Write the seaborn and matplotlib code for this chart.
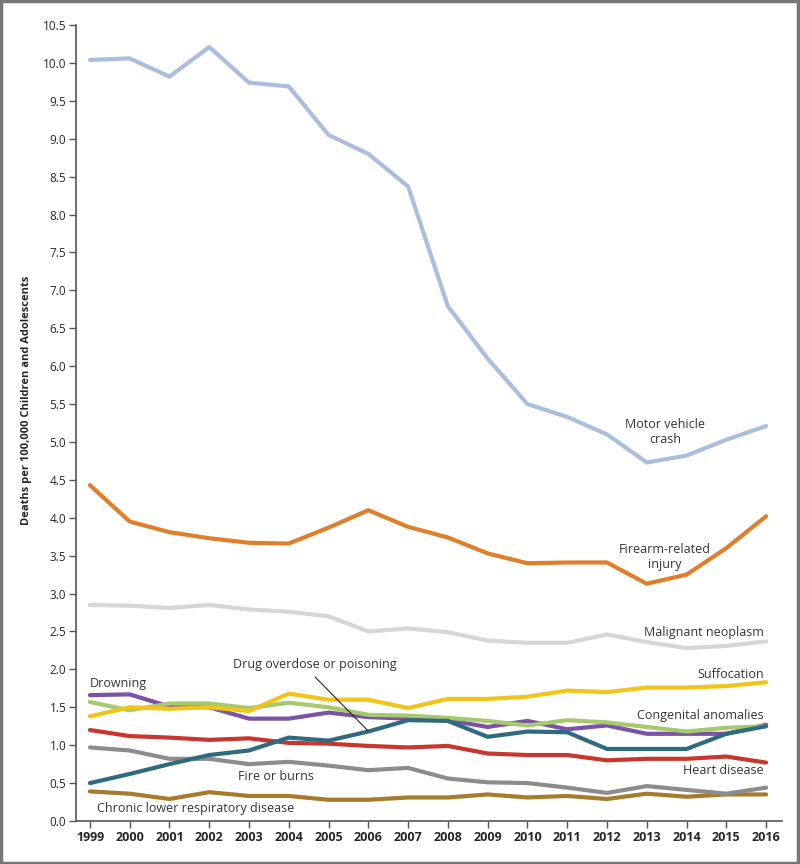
import matplotlib
matplotlib.use("Agg")
import matplotlib.pyplot as plt
from matplotlib.patches import Rectangle
import numpy as np
import pandas as pd
import seaborn as sns

years = list(range(1999, 2017))

motor_vehicle = [10.04, 10.06, 9.82, 10.21, 9.74, 9.69, 9.05, 8.80, 8.37, 6.79,
                 6.10, 5.50, 5.33, 5.10, 4.73, 4.82, 5.03, 5.21]
firearm = [4.43, 3.95, 3.81, 3.73, 3.67, 3.66, 3.87, 4.10, 3.88, 3.74,
           3.53, 3.40, 3.41, 3.41, 3.13, 3.25, 3.60, 4.02]
malignant = [2.85, 2.84, 2.81, 2.85, 2.79, 2.76, 2.70, 2.50, 2.54, 2.49,
             2.38, 2.35, 2.35, 2.46, 2.36, 2.28, 2.31, 2.37]
suffocation = [1.38, 1.50, 1.48, 1.50, 1.45, 1.68, 1.60, 1.60, 1.49, 1.61,
               1.61, 1.64, 1.72, 1.70, 1.76, 1.76, 1.78, 1.83]
drowning = [1.66, 1.67, 1.51, 1.50, 1.35, 1.35, 1.43, 1.37, 1.35, 1.33,
            1.24, 1.32, 1.21, 1.26, 1.15, 1.15, 1.15, 1.27]
congenital = [1.57, 1.46, 1.55, 1.55, 1.49, 1.56, 1.50, 1.40, 1.39, 1.36,
              1.32, 1.26, 1.33, 1.30, 1.24, 1.18, 1.23, 1.25]
heart = [1.20, 1.12, 1.10, 1.07, 1.09, 1.03, 1.02, 0.99, 0.97, 0.99,
         0.89, 0.87, 0.87, 0.80, 0.82, 0.82, 0.85, 0.77]
drug = [0.50, 0.62, 0.75, 0.87, 0.93, 1.10, 1.06, 1.18, 1.33, 1.32,
        1.11, 1.18, 1.17, 0.95, 0.95, 0.95, 1.15, 1.25]
fire = [0.97, 0.93, 0.82, 0.82, 0.75, 0.78, 0.73, 0.67, 0.70, 0.56,
        0.51, 0.50, 0.44, 0.37, 0.46, 0.41, 0.36, 0.44]
chronic = [0.39, 0.36, 0.29, 0.38, 0.33, 0.33, 0.28, 0.28, 0.31, 0.31,
           0.35, 0.31, 0.33, 0.29, 0.36, 0.32, 0.35, 0.35]

series = {
    "Malignant neoplasm": (malignant, "#d6d6d6"),
    "Motor vehicle crash": (motor_vehicle, "#a9bedf"),
    "Firearm-related injury": (firearm, "#e07f2b"),
    "Chronic lower respiratory disease": (chronic, "#a67b2c"),
    "Fire or burns": (fire, "#8c8c8c"),
    "Heart disease": (heart, "#c8372d"),
    "Drowning": (drowning, "#7b52a6"),
    "Congenital anomalies": (congenital, "#a5c96c"),
    "Drug overdose or poisoning": (drug, "#2e6b80"),
    "Suffocation": (suffocation, "#f0c419"),
}

rows = []
for name, (vals, _) in series.items():
    for y, v in zip(years, vals):
        rows.append({"year": y, "rate": v, "cause": name})
df = pd.DataFrame(rows)
palette = {name: c for name, (_, c) in series.items()}

sns.set_style("ticks")
plt.rcParams["font.family"] = ["Open Sans", "DejaVu Sans"]

fig = plt.figure(figsize=(8, 8.64), dpi=100)
ax = fig.add_axes([0.095, 0.0498, 0.8825, 0.9212])

sns.lineplot(data=df, x="year", y="rate", hue="cause", palette=palette,
             hue_order=list(series.keys()), linewidth=3, legend=False, ax=ax)

ax.set_xlim(1998.65, 2016.4)
ax.set_ylim(0, 10.5)
ax.set_xticks(years)
ax.set_xticklabels([str(y) for y in years], fontweight="bold", fontsize=9)
ax.set_yticks(np.arange(0, 10.51, 0.5))
ax.set_yticklabels([f"{v:.1f}" for v in np.arange(0, 10.51, 0.5)], fontsize=8.5)
ax.set_xlabel("")
ax.set_ylabel("Deaths per 100,000 Children and Adolescents", fontweight="bold",
              fontsize=8, labelpad=8)
ax.yaxis.set_label_coords(-0.062, 0.528)
ax.tick_params(axis="both", direction="out", length=5, width=1, color="#555555", pad=2)
for s in ["top", "right"]:
    ax.spines[s].set_visible(False)
for s in ["left", "bottom"]:
    ax.spines[s].set_color("#555555")
    ax.spines[s].set_linewidth(1.2)

txt = dict(fontsize=9, color="#333333")
ax.text(2013.46, 5.13, "Motor vehicle\ncrash", ha="center", va="center", **txt)
ax.text(2013.46, 3.48, "Firearm-related\ninjury", ha="center", va="center", **txt)
ax.text(2015.95, 2.49, "Malignant neoplasm", ha="right", va="center", **txt)
ax.text(2015.95, 1.93, "Suffocation", ha="right", va="center", **txt)
ax.text(2015.95, 1.39, "Congenital anomalies", ha="right", va="center", **txt)
ax.text(2015.95, 0.67, "Heart disease", ha="right", va="center", **txt)
ax.text(1999.0, 1.82, "Drowning", ha="left", va="center", **txt)
ax.text(2004.66, 2.07, "Drug overdose or poisoning", ha="center", va="center", **txt)
ax.plot([2004.66, 2005.99], [1.90, 1.19], color="#222222", linewidth=0.8)
ax.text(2003.68, 0.59, "Fire or burns", ha="center", va="center", **txt)
ax.text(1999.18, 0.17, "Chronic lower respiratory disease", ha="left", va="center", **txt)

fig.patches.append(Rectangle((0.001, 0.001), 0.997, 0.998, transform=fig.transFigure,
                             fill=False, edgecolor="#777777", linewidth=2.5))

fig.savefig("out.png", dpi=100)
